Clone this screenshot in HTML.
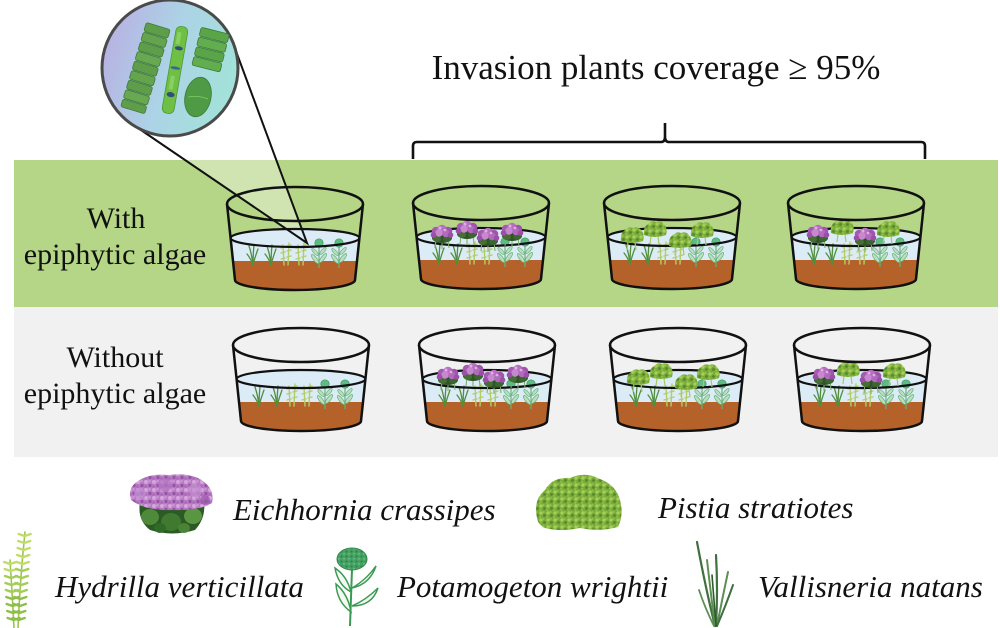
<!DOCTYPE html>
<html><head><meta charset="utf-8">
<style>html,body{margin:0;padding:0;background:#fff;}svg{display:block}
.sf{font-family:"Liberation Serif","Times New Roman",serif;}
.it{font-family:"Liberation Serif","Times New Roman",serif;font-style:italic;}
</style>
</head>
<body>
<svg width="1000" height="628" viewBox="0 0 1000 628" xmlns="http://www.w3.org/2000/svg">
<defs>
 <linearGradient id="cg" x1="0" y1="0.3" x2="1" y2="0.6">
  <stop offset="0" stop-color="#b8b1e2"/>
  <stop offset="0.5" stop-color="#acd3e6"/>
  <stop offset="1" stop-color="#a2e3d8"/>
 </linearGradient>
 <pattern id="purp" width="8" height="8" patternUnits="userSpaceOnUse">
  <rect width="8" height="8" fill="#b67bc2"/>
  <circle cx="2" cy="2" r="2" fill="#d5a5dd"/>
  <circle cx="6" cy="5.5" r="1.6" fill="#9653a6"/>
  <circle cx="5.5" cy="1.2" r="1.3" fill="#c995d2"/>
  <circle cx="1.5" cy="6.5" r="1.2" fill="#a866b4"/>
 </pattern>
 <pattern id="pist" width="7" height="7" patternUnits="userSpaceOnUse">
  <rect width="7" height="7" fill="#79ab3a"/>
  <circle cx="2" cy="2" r="1.7" fill="#a7cf58"/>
  <circle cx="5.5" cy="4.5" r="1.4" fill="#55882a"/>
  <circle cx="4.5" cy="1" r="1" fill="#95c04a"/>
  <circle cx="1.2" cy="5.8" r="1.1" fill="#8fbd48"/>
 </pattern>
 <pattern id="potex" width="5" height="5" patternUnits="userSpaceOnUse">
  <rect width="5" height="5" fill="#45a263"/>
  <circle cx="1.5" cy="1.5" r="1" fill="#2f7e48"/>
  <circle cx="4" cy="3.8" r="0.9" fill="#6cc088"/>
 </pattern>

 <g id="vs" fill="none" stroke="#4f8f3e" stroke-width="1.3" stroke-linecap="round">
  <path d="M0,0 Q-1,-10 -4,-19"/>
  <path d="M0,0 Q0,-10 1,-20"/>
  <path d="M0,0 Q2,-8 5,-16"/>
  <path d="M0,0 Q-2,-6 -6,-11"/>
 </g>
 <g id="hs" fill="none" stroke="#b3cd68" stroke-width="1.4" stroke-linecap="round">
  <path d="M-2,0 L-3,-20"/>
  <path d="M2,0 L3,-22"/>
  <path d="M-5,-6 L-1,-7 M-5,-12 L-1,-13 M-5,-17 L-1,-18 M1,-8 L5,-9 M1,-14 L5,-15 M1,-19 L5,-20"/>
 </g>
 <g id="ps">
  <path d="M0,2 L0,-20" stroke="#6ab07c" stroke-width="1.2"/>
  <ellipse cx="-4" cy="-7" rx="1.8" ry="5.5" transform="rotate(-38 -4 -7)" fill="#b8e0c0" stroke="#6ab07c" stroke-width="0.7"/>
  <ellipse cx="4" cy="-8" rx="1.8" ry="5.5" transform="rotate(38 4 -8)" fill="#b8e0c0" stroke="#6ab07c" stroke-width="0.7"/>
  <ellipse cx="-4" cy="-14" rx="1.6" ry="4.5" transform="rotate(-42 -4 -14)" fill="#b8e0c0" stroke="#6ab07c" stroke-width="0.7"/>
  <ellipse cx="4" cy="-15" rx="1.6" ry="4.5" transform="rotate(42 4 -15)" fill="#b8e0c0" stroke="#6ab07c" stroke-width="0.7"/>
  <circle cx="0" cy="-23" r="4.2" fill="#5fbb84" stroke="#3f9a66" stroke-width="0.7"/>
 </g>
 <g id="eS">
  <path d="M-6,13 L-7,22 M0,14 L0,23 M6,13 L7,22" stroke="#7ab070" stroke-width="1.1" fill="none"/>
  <ellipse cx="0" cy="12" rx="10" ry="5" fill="#2e5526"/>
  <ellipse cx="-5" cy="13" rx="4" ry="3" fill="#466f35"/>
  <ellipse cx="5" cy="13" rx="4" ry="3" fill="#3b6630"/>
  <circle cx="-6" cy="5" r="4.3" fill="#a55bb0"/>
  <circle cx="0" cy="3.5" r="4.8" fill="#b86fc2"/>
  <circle cx="6" cy="5" r="4.3" fill="#a055ad"/>
  <circle cx="-3" cy="7" r="3.8" fill="#c888d0"/>
  <circle cx="4" cy="7.5" r="3.8" fill="#b26abd"/>
  <circle cx="-8.5" cy="9" r="2.8" fill="#9c4fa8"/>
  <circle cx="8.5" cy="9" r="2.8" fill="#9c4fa8"/>
  <circle cx="-2" cy="2" r="1.5" fill="#dcb0e2"/>
  <circle cx="3" cy="4" r="1.4" fill="#dcb0e2"/>
 </g>
 <g id="pS">
  <path d="M-4,14 L-5,22 M3,14 L4,22" stroke="#a9c86a" stroke-width="1.2" fill="none"/>
  <path d="M-11,13 Q-12,5 -7,2 Q-3,-2 1,0 Q6,-2 9,2 Q13,6 11,13 Q0,17 -11,13Z" fill="url(#pist)"/>
 </g>

 <g id="tankBase">
  <path d="M-64.4,51 A64.4,9 0 0 1 64.4,51 L62.1,74 L-62.1,74 Z" fill="#dcecf7"/>
  <path d="M-62.1,74 L62.1,74 L60,93 A60,10 0 0 1 -60,93 Z" fill="#b4622a"/>
 </g>
 <g id="subm">
  <use href="#vs" x="-42" y="78"/>
  <use href="#vs" x="-24" y="78"/>
  <use href="#hs" x="-9" y="78"/>
  <use href="#hs" x="6" y="78"/>
  <use href="#ps" x="24" y="79"/>
  <use href="#ps" x="44" y="79"/>
 </g>
 <g id="wline">
  <ellipse cx="0" cy="51" rx="64.4" ry="9" fill="none" stroke="#111" stroke-width="2.2"/>
 </g>
 <g id="tankOutline" fill="none" stroke="#111" stroke-width="2.5">
  <ellipse cx="0" cy="17" rx="68" ry="17"/>
  <path d="M-68,17 L-60,93 A60,10 0 0 0 60,93 L68,17"/>
 </g>
</defs>

<rect width="1000" height="628" fill="#fff"/>
<rect x="14" y="160" width="984" height="147" fill="#b5d687"/>
<rect x="14" y="307" width="984" height="150" fill="#f1f1f1"/>

<text class="sf" x="656" y="79" text-anchor="middle" font-size="35" fill="#111">Invasion plants coverage ≥ 95%</text>
<path d="M413,159 L413,146 Q413,142 417,142 L661,142 Q665,142 665,137 L665,123 M665,137 Q665,142 669,142 L921,142 Q925,142 925,146 L925,159" fill="none" stroke="#111" stroke-width="2.6"/>

<g class="sf" font-size="30" fill="#111" text-anchor="middle">
 <text x="116" y="228">With</text>
 <text x="115" y="264">epiphytic algae</text>
 <text x="115" y="367">Without</text>
 <text x="115" y="403">epiphytic algae</text>
</g>

<polygon points="185,160 276,160 307,243" fill="#ffffff" fill-opacity="0.35"/>

<g transform="translate(295,187)">
 <use href="#tankBase"/><use href="#subm"/><use href="#wline"/><use href="#tankOutline"/>
</g>
<g transform="translate(481,186)">
 <use href="#tankBase"/><use href="#subm"/><use href="#wline"/>
 <use href="#eS" x="-39" y="40"/><use href="#eS" x="-14" y="36"/><use href="#eS" x="7" y="43"/><use href="#eS" x="31" y="38"/>
 <use href="#tankOutline"/>
</g>
<g transform="translate(672,186)">
 <use href="#tankBase"/><use href="#subm"/><use href="#wline"/>
 <use href="#pS" x="-40" y="42"/><use href="#pS" x="-17" y="36"/><use href="#pS" x="8" y="47"/><use href="#pS" x="30" y="37"/>
 <use href="#tankOutline"/>
</g>
<g transform="translate(856,186)">
 <use href="#tankBase"/><use href="#subm"/><use href="#wline"/>
 <use href="#eS" x="-38" y="40"/><use href="#pS" x="-14" y="34"/><use href="#eS" x="9" y="43"/><use href="#pS" x="32" y="36"/>
 <use href="#tankOutline"/>
</g>

<g transform="translate(301,328)">
 <use href="#tankBase"/><use href="#subm"/><use href="#wline"/><use href="#tankOutline"/>
</g>
<g transform="translate(487,328)">
 <use href="#tankBase"/><use href="#subm"/><use href="#wline"/>
 <use href="#eS" x="-39" y="40"/><use href="#eS" x="-14" y="36"/><use href="#eS" x="7" y="43"/><use href="#eS" x="31" y="38"/>
 <use href="#tankOutline"/>
</g>
<g transform="translate(678,328)">
 <use href="#tankBase"/><use href="#subm"/><use href="#wline"/>
 <use href="#pS" x="-40" y="42"/><use href="#pS" x="-17" y="36"/><use href="#pS" x="8" y="47"/><use href="#pS" x="30" y="37"/>
 <use href="#tankOutline"/>
</g>
<g transform="translate(862,328)">
 <use href="#tankBase"/><use href="#subm"/><use href="#wline"/>
 <use href="#eS" x="-38" y="40"/><use href="#pS" x="-14" y="34"/><use href="#eS" x="9" y="43"/><use href="#pS" x="32" y="36"/>
 <use href="#tankOutline"/>
</g>

<path d="M138,128 L307,243 L233,43" fill="none" stroke="#111" stroke-width="2"/>

<circle cx="170" cy="68" r="68" fill="url(#cg)" stroke="#4a4a4a" stroke-width="3"/>
<g transform="rotate(17 145 68)">
 <rect x="133" y="24" width="25" height="9" rx="2" fill="#5e9e4a" stroke="#3f7a3a" stroke-width="0.8"/>
 <rect x="133" y="34" width="25" height="9" rx="2" fill="#63a44c" stroke="#3f7a3a" stroke-width="0.8"/>
 <rect x="133" y="44" width="25" height="9" rx="2" fill="#5e9e4a" stroke="#3f7a3a" stroke-width="0.8"/>
 <rect x="133" y="54" width="25" height="9" rx="2" fill="#67a850" stroke="#3f7a3a" stroke-width="0.8"/>
 <rect x="133" y="64" width="25" height="9" rx="2" fill="#5e9e4a" stroke="#3f7a3a" stroke-width="0.8"/>
 <rect x="133" y="74" width="25" height="9" rx="2" fill="#63a44c" stroke="#3f7a3a" stroke-width="0.8"/>
 <rect x="133" y="84" width="25" height="9" rx="2" fill="#5e9e4a" stroke="#3f7a3a" stroke-width="0.8"/>
 <rect x="133" y="94" width="25" height="9" rx="2" fill="#67a850" stroke="#3f7a3a" stroke-width="0.8"/>
 <rect x="133" y="104" width="25" height="8" rx="2" fill="#5e9e4a" stroke="#3f7a3a" stroke-width="0.8"/>
</g>
<g transform="rotate(10 175 70)">
 <rect x="169" y="26" width="12" height="88" rx="5" fill="#6fbf45" stroke="#4a9a38" stroke-width="0.8"/>
 <ellipse cx="175" cy="48" rx="4" ry="2" fill="#2f4f7a"/>
 <ellipse cx="175" cy="68" rx="5" ry="1.5" fill="#3a6a8a"/>
 <ellipse cx="175" cy="95" rx="4" ry="2.5" fill="#2f4f7a"/>
 <rect x="171" y="32" width="4" height="12" fill="#8ad060"/>
 <rect x="172" y="76" width="4" height="14" fill="#8ad060"/>
</g>
<g transform="rotate(14 210 50)">
 <rect x="196" y="30" width="29" height="9" rx="2" fill="#5aa548" stroke="#3f7a3a" stroke-width="0.8"/>
 <rect x="196" y="40" width="29" height="9" rx="2" fill="#62ad4e" stroke="#3f7a3a" stroke-width="0.8"/>
 <rect x="196" y="50" width="29" height="9" rx="2" fill="#5aa548" stroke="#3f7a3a" stroke-width="0.8"/>
 <rect x="196" y="60" width="29" height="9" rx="2" fill="#62ad4e" stroke="#3f7a3a" stroke-width="0.8"/>
</g>
<ellipse cx="198" cy="97" rx="13" ry="20" transform="rotate(12 198 97)" fill="#4e9a45" stroke="#3a7a38" stroke-width="0.8"/>
<path d="M188,97 Q198,95 208,99" stroke="#7ac060" stroke-width="1" fill="none"/>

<!-- Legend: Eichhornia -->
<path d="M140,502 Q137,520 150,530 Q172,537 195,530 Q206,518 204,502 Z" fill="#2c5a24"/>
<ellipse cx="150" cy="517" rx="9" ry="8" fill="#4f8a3a"/>
<ellipse cx="171" cy="522" rx="10" ry="9" fill="#3f7a30"/>
<ellipse cx="193" cy="516" rx="9" ry="8" fill="#5a9642"/>
<ellipse cx="160" cy="528" rx="6" ry="5" fill="#2f6a28"/>
<ellipse cx="184" cy="528" rx="6" ry="5" fill="#4a8236"/>
<path d="M131,500 Q127,488 138,481 Q150,473 168,475 Q190,472 203,481 Q215,490 212,503 Q200,511 172,510 Q145,511 131,500 Z" fill="url(#purp)"/>
<circle cx="140" cy="494" r="6" fill="#c08ad0" opacity="0.7"/>
<circle cx="165" cy="485" r="7" fill="#b473c1" opacity="0.7"/>
<circle cx="195" cy="490" r="7" fill="#c591d0" opacity="0.7"/>
<circle cx="205" cy="500" r="5" fill="#9a55a8" opacity="0.7"/>
<text class="it" x="233" y="520" font-size="31" fill="#111">Eichhornia crassipes</text>

<!-- Legend: Pistia -->
<path d="M537,518 Q533,500 545,490 Q552,477 570,478 Q585,471 600,479 Q616,485 620,500 Q624,515 618,527 Q600,532 580,528 Q560,532 545,528 Q538,525 537,518 Z" fill="url(#pist)"/>
<text class="it" x="658" y="518" font-size="31" fill="#111">Pistia stratiotes</text>

<!-- Legend: Hydrilla -->
<g fill="none" stroke-linecap="round">
 <path d="M18,628 Q20,580 25,532" stroke="#9cc652" stroke-width="1.6"/>
 <path d="M14,628 Q12,590 10,560" stroke="#9cc652" stroke-width="1.6"/>
 <g stroke="#c2dc6a" stroke-width="2.4">
  <path d="M18.7,534 L24.7,536 L30.7,534"/>
  <path d="M18.2,541 L24.2,543 L30.2,541"/>
  <path d="M17.7,548 L23.7,550 L29.7,548"/>
  <path d="M17.2,555 L23.2,557 L29.2,555"/>
  <path d="M16.8,562 L22.8,564 L28.8,562"/>
  <path d="M4.2,562 L10.2,564 L16.2,562"/>
  <path d="M4.7,569 L10.7,571 L16.7,569"/>
 </g>
 <g stroke="#a6cc58" stroke-width="2.4">
  <path d="M16.3,569 L22.3,571 L28.3,569"/>
  <path d="M15.8,576 L21.8,578 L27.8,576"/>
  <path d="M15.3,583 L21.3,585 L27.3,583"/>
  <path d="M14.8,590 L20.8,592 L26.8,590"/>
  <path d="M5.1,576 L11.1,578 L17.1,576"/>
  <path d="M5.5,583 L11.5,585 L17.5,583"/>
  <path d="M5.9,590 L11.9,592 L17.9,590"/>
 </g>
 <g stroke="#8fbf4a" stroke-width="2.4">
  <path d="M14.3,597 L20.3,599 L26.3,597"/>
  <path d="M13.8,604 L19.8,606 L25.8,604"/>
  <path d="M13.3,611 L19.3,613 L25.3,611"/>
  <path d="M12.7,618 L18.7,620 L24.7,618"/>
  <path d="M6.3,597 L12.3,599 L18.3,597"/>
  <path d="M6.7,604 L12.7,606 L18.7,604"/>
  <path d="M7.2,611 L13.2,613 L19.2,611"/>
  <path d="M7.6,618 L13.6,620 L19.6,618"/>
 </g>
</g>
<text class="it" x="55" y="597" font-size="31" fill="#111">Hydrilla verticillata</text>

<!-- Legend: Potamogeton -->
<g fill="#f2faf2" stroke="#3b9a52" stroke-width="1.5">
 <path d="M351,592 Q338,585 335,568 Q347,576 351,592 Z"/>
 <path d="M351,612 Q337,602 336,584 Q348,594 351,612 Z"/>
 <path d="M352,588 Q366,580 376,566 Q370,584 352,588 Z"/>
 <path d="M352,606 Q366,600 378,588 Q372,606 352,606 Z"/>
</g>
<path d="M352,569 L350,626" stroke="#3b9a52" stroke-width="2" fill="none"/>
<ellipse cx="352" cy="559" rx="15" ry="11" fill="url(#potex)" stroke="#2f8a4a" stroke-width="1"/>
<text class="it" x="397" y="597" font-size="31" fill="#111">Potamogeton wrightii</text>

<!-- Legend: Vallisneria -->
<g fill="none" stroke-linecap="round">
 <path d="M715,626 Q706,590 697,542" stroke="#3f7040" stroke-width="2.2"/>
 <path d="M715,626 Q711,595 707,560" stroke="#5d8f52" stroke-width="2"/>
 <path d="M716,626 Q718,590 716,555" stroke="#3f7040" stroke-width="2.2"/>
 <path d="M717,626 Q722,600 728,572" stroke="#5d8f52" stroke-width="2"/>
 <path d="M717,626 Q726,605 733,585" stroke="#3f7040" stroke-width="2"/>
 <path d="M714,626 Q705,608 699,590" stroke="#5d8f52" stroke-width="1.8"/>
 <path d="M716,626 Q714,600 712,575" stroke="#2f5a30" stroke-width="1.6"/>
</g>
<text class="it" x="758" y="597" font-size="31" fill="#111">Vallisneria natans</text>
</svg>
</body>
</html>
